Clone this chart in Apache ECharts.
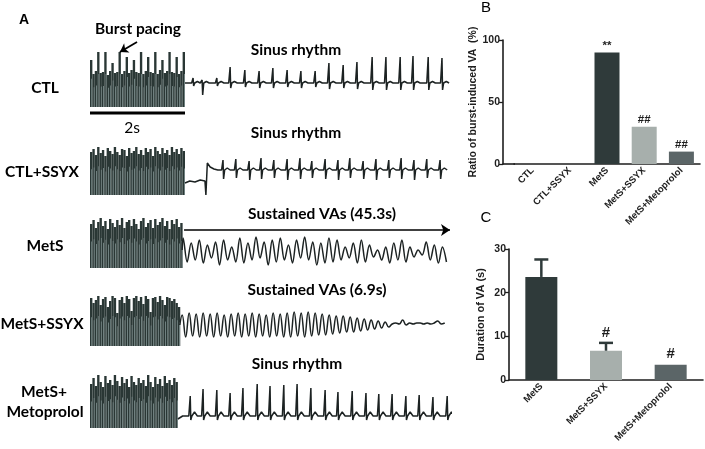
<!DOCTYPE html>
<html>
<head>
<meta charset="utf-8">
<script src="https://cdn.jsdelivr.net/npm/echarts@6/dist/echarts.min.js"></script>
<style>
  html, body { margin: 0; padding: 0; background: #fff; }
  #chart { width: 705px; height: 449px; }
</style>
</head>
<body>
<div id="chart"></div>
<script>
// ---- panel B: ratio of burst-induced VA (%)
const groupsB = ['CTL', 'CTL+SSYX', 'MetS', 'MetS+SSYX', 'MetS+Metoprolol'];
const ratioVA = [0, 0, 90, 30, 10];
const ratioMarks = ['', '', '**', '##', '##'];
const ticksB = [0, 50, 100];

// ---- panel C: duration of VA (s), mean + upper error
const groupsC = ['MetS', 'MetS+SSYX', 'MetS+Metoprolol'];
const durationVA = [23.6, 6.7, 3.5];
const durationErr = [4.0, 1.8, 0];
const durationMarks = ['', '#', '#'];
const ticksC = [0, 10, 20, 30];

// ---- panel A: ECG traces (time in s, amplitude in arbitrary units)
const pulseInterval = 0.05;   // burst pacing, 20 Hz for 2 s
const scaleBarSeconds = 2;

// burst pacing blocks: top of each paced complex
const ctlBurstTops = [23, 9, 12, 31, 10, 11, 31, 8, 12, 20, 10, 11, 31, 9, 12, 26, 10, 13, 23, 11,
                      10, 31, 9, 12, 26, 11, 10, 31, 9, 13, 23, 10, 12, 31, 11, 10, 26, 9, 12, 31];
const ctlSsyxBurstTops = [18, 21, 15, 23, 17, 20, 14, 22, 19, 16, 23, 18, 15, 21, 20, 14, 22, 17, 19, 23,
                          16, 20, 15, 22, 18, 21, 14, 23, 19, 16, 22, 17, 20, 15, 23, 18, 21, 16, 22, 19];
const metsBurstTops = [26, 30, 22, 28, 32, 24, 29, 21, 31, 27, 23, 30, 25, 32, 22, 28, 30, 24, 31, 26,
                       21, 29, 32, 23, 27, 30, 22, 31, 25, 28, 32, 24, 29, 21, 30, 26, 31, 23, 27];
const metsSsyxBurstTops = [27, 22, 25, 29, 20, 26, 28, 18, 24, 29, 27, 12, 25, 28, 22, 29, 26, 14, 27, 29,
                           24, 28, 21, 29, 26, 13, 27, 28, 23, 29, 25, 20, 28, 27, 24, 26, 22, 18];
const metoBurstTops = [32, 38, 30, 41, 34, 29, 40, 33, 36, 31, 41, 35, 30, 39, 33, 37, 29, 40, 34, 31,
                       38, 33, 36, 30, 41, 34, 29, 39, 32, 37, 30, 40, 33, 36, 31, 38, 34];
const burstBottoms = [-24, -25, -18, -21, -12];

// CTL: sinus rhythm beats
const ctlBeatTimes = [2.17, 2.36, 2.67, 2.95, 3.26, 3.56, 3.85, 4.15, 4.44, 4.74, 5.03, 5.33, 5.62,
                      5.94, 6.23, 6.53, 6.80, 7.12, 7.41];
const ctlBeatR = [5, 3, 5, 16, 13, 12, 15, 13, 12, 12, 20, 18, 21, 26, 26, 26, 27, 26, 25];
const ctlBeatS = [-3, -12, -3, -5, -4, -5, -5, -4, -5, -4, -6, -5, -6, -7, -7, -7, -7, -7, -7];

// CTL+SSYX: post-pacing transient then sinus beats
const ctlSsyxLead = [[2.0, -13], [2.1, -11], [2.21, -12], [2.32, -10], [2.42, -11], [2.44, -25],
                     [2.47, 7], [2.53, 3], [2.61, 1], [2.69, 0]];
const ctlSsyxBeatTimes = [2.80, 3.07, 3.35, 3.60, 3.87, 4.15, 4.42, 4.67, 4.95, 5.22, 5.47, 5.75,
                          6.02, 6.29, 6.55, 6.82, 7.09, 7.37];
const ctlSsyxBeatR = [10, 11, 9, 12, 10, 11, 12, 9, 11, 10, 12, 9, 11, 10, 12, 10, 11, 10];
const ctlSsyxBeatS = [-9, -8, -10, -9, -8, -10, -9, -8, -9, -10, -8, -9, -10, -8, -9, -10, -8, -9];

// MetS: sustained VA, alternating peak / trough samples
const metsVAStart = 1.96;
const metsVAStep = 0.0853;
const metsVA = [12, -12, 7, -10, 10, -13, 5, -8, 8, -15, 10, -10, 3, -12, 12, -13, 7, -10, 13, -8,
                8, -15, 10, -12, 12, -10, 5, -13, 10, -8, 13, -10, 8, -15, 7, -13, 12, -12, 10, -10,
                3, -8, 7, -13, 10, -12, 5, -7, 0, -10, 3, -13, 7, -10, 10, -12, 3, -7, 0, -5,
                8, -10, 5, -13, 3, -12];

// MetS+SSYX: sustained VA then recovery
const metsSsyxVAStart = 1.94;
const metsSsyxVAStep = 0.0737;
const metsSsyxVA = [10, -12, 12, -11, 11, -12, 12, -11, 11, -12, 12, -11, 10, -12, 11, -11, 12, -12, 11, -11,
                    12, -12, 11, -11, 10, -12, 12, -11, 11, -12, 12, -12, 13, -11, 12, -12, 13, -11, 12, -10,
                    11, -10, 10, -9, 9, -8, 9, -7, 8, -7, 7, -6, 6, -5, 5, -4, 4, -3, 3, -2,
                    1, 2, 1, 5, 0, 2, 1, 2, 2, 1, 2, 1, 2, 4, 1, 2];

// MetS+Metoprolol: sinus beats
const metoBeatTimes = [2.11, 2.38, 2.67, 2.95, 3.22, 3.52, 3.79, 4.08, 4.36, 4.65, 4.95, 5.22, 5.52,
                       5.81, 6.08, 6.36, 6.65, 6.93, 7.22, 7.52];
const metoBeatR = [20, 27, 26, 23, 28, 32, 30, 31, 32, 28, 26, 24, 25, 23, 22, 22, 20, 21, 19, 20];

// ---- helpers
function burstData(tops, bottom) {
  return tops.map((top, i) => [i * pulseInterval, bottom, top]);
}
function beatTrace(start, times, rs, ss, tWave) {
  const pts = [[start, 0]];
  times.forEach((t, i) => {
    const s = ss ? ss[i] : -4;
    pts.push([t - 0.03, 0], [t - 0.008, 1], [t, rs[i]], [t + 0.012, s],
             [t + 0.035, 0], [t + 0.09, tWave], [t + 0.15, 0]);
  });
  return pts;
}
function sampledTrace(start, step, values) {
  return values.map((v, i) => [start + i * step, v]);
}

const burstDark = '#2a3735';
const burstLight = '#8fa1a1';
function renderBurst(params, api) {
  const t = api.value(0), lo = api.value(1), hi = api.value(2);
  const p0 = api.coord([t, hi]);
  const p1 = api.coord([t + pulseInterval, lo]);
  const w = p1[0] - p0[0], h = p1[1] - p0[1];
  return {
    type: 'group',
    children: [
      { type: 'rect', shape: { x: p0[0], y: p0[1], width: w, height: h }, style: { fill: burstDark } },
      { type: 'rect', shape: { x: p0[0] + w * 0.6, y: p0[1] + h * 0.4, width: 0.7, height: h * 0.6 },
        style: { fill: burstLight } }
    ]
  };
}

// ECG rows: baseline pixel, grid top / bottom pixel
const rows = [
  { base: 83, top: 38, bottom: 116 },
  { base: 170, top: 140, bottom: 200 },
  { base: 250, top: 214, bottom: 272 },
  { base: 325, top: 292, bottom: 350 },
  { base: 416, top: 370, bottom: 432 }
];
const traceX0 = 90, traceW = 360, pxPerSec = 47.5;

const rowTraces = [
  beatTrace(2.0, ctlBeatTimes, ctlBeatR, ctlBeatS, 1.5),
  ctlSsyxLead.concat(beatTrace(2.72, ctlSsyxBeatTimes, ctlSsyxBeatR, ctlSsyxBeatS, 2)),
  [[1.94, 0]].concat(sampledTrace(metsVAStart, metsVAStep, metsVA)),
  [[1.89, 0]].concat(sampledTrace(metsSsyxVAStart, metsSsyxVAStep, metsSsyxVA)),
  [[1.85, -3]].concat(beatTrace(1.95, metoBeatTimes, metoBeatR, null, 4))
];
const rowSmooth = [0, 0, 0.35, 0.45, 0];
const rowBursts = [ctlBurstTops, ctlSsyxBurstTops, metsBurstTops, metsSsyxBurstTops, metoBurstTops];

const grids = [
  { left: 514, top: 40, width: 186, height: 124 },   // B
  { left: 509, top: 249, width: 194, height: 131 }   // C
];
const xAxes = [], yAxes = [], series = [];

const axisCol = '#1e1e1e';
const axisFont = 'Liberation Sans';

// B
xAxes.push({
  type: 'category', gridIndex: 0, data: groupsB,
  axisLine: { lineStyle: { color: axisCol, width: 1.6 } },
  axisTick: { alignWithLabel: true, length: 3, lineStyle: { color: axisCol, width: 1.3 } },
  axisLabel: { rotate: 45, interval: 0, fontSize: 9.5, fontWeight: 'bold', fontFamily: axisFont, color: axisCol, margin: 5 }
});
yAxes.push({
  type: 'value', gridIndex: 0, min: ticksB[0], max: ticksB[ticksB.length - 1], interval: ticksB[1] - ticksB[0],
  offset: 11,
  name: 'Ratio of burst-induced VA  (%)', nameLocation: 'middle', nameGap: 22,
  nameTextStyle: { fontSize: 10.5, fontWeight: 'bold', fontFamily: axisFont, color: axisCol },
  splitLine: { show: false },
  axisLine: { show: true, lineStyle: { color: axisCol, width: 1.6 } },
  axisTick: { show: true, length: 4, lineStyle: { color: axisCol, width: 1.3 } },
  axisLabel: { fontSize: 10.5, fontWeight: 'bold', fontFamily: axisFont, color: axisCol, margin: 3 }
});
const colorOf = { 'CTL': '#2f3a3a', 'CTL+SSYX': '#2f3a3a', 'MetS': '#2f3a3a', 'MetS+SSYX': '#a7afac', 'MetS+Metoprolol': '#5b6567' };
series.push({
  type: 'bar', xAxisIndex: 0, yAxisIndex: 0, barWidth: 25,
  data: ratioVA.map((v, i) => ({ value: v, itemStyle: { color: colorOf[groupsB[i]] } })),
  label: {
    show: true, position: 'top', distance: 1,
    formatter: p => ratioMarks[p.dataIndex],
    fontSize: 11.5, fontWeight: 'bold', fontFamily: axisFont, color: axisCol
  }
});

// C
xAxes.push({
  type: 'category', gridIndex: 1, data: groupsC,
  axisLine: { lineStyle: { color: axisCol, width: 1.6 } },
  axisTick: { alignWithLabel: true, length: 3, lineStyle: { color: axisCol, width: 1.3 } },
  axisLabel: { rotate: 45, interval: 0, fontSize: 9.5, fontWeight: 'bold', fontFamily: axisFont, color: axisCol, margin: 5 }
});
yAxes.push({
  type: 'value', gridIndex: 1, min: ticksC[0], max: ticksC[ticksC.length - 1], interval: ticksC[1] - ticksC[0],
  name: 'Duration of VA (s)', nameLocation: 'middle', nameGap: 23,
  nameTextStyle: { fontSize: 11, fontWeight: 'bold', fontFamily: axisFont, color: axisCol },
  splitLine: { show: false },
  axisLine: { show: true, lineStyle: { color: axisCol, width: 1.6 } },
  axisTick: { show: true, length: 4, lineStyle: { color: axisCol, width: 1.3 } },
  axisLabel: { fontSize: 10.5, fontWeight: 'bold', fontFamily: axisFont, color: axisCol, margin: 3 }
});
series.push({
  type: 'bar', xAxisIndex: 1, yAxisIndex: 1, barWidth: 32,
  data: durationVA.map((v, i) => ({ value: v, itemStyle: { color: colorOf[groupsC[i]] } }))
});
series.push({
  type: 'custom', xAxisIndex: 1, yAxisIndex: 1, z: 5,
  data: durationVA.map((v, i) => [i, v, durationErr[i]]),
  renderItem: (params, api) => {
    const i = api.value(0), v = api.value(1), e = api.value(2);
    const base = api.coord([i, v]);
    const top = api.coord([i, v + e]);
    const children = [];
    if (e > 0) {
      children.push({ type: 'line', shape: { x1: base[0], y1: base[1], x2: top[0], y2: top[1] },
                      style: { stroke: '#2f3a3a', lineWidth: 2.5 } });
      children.push({ type: 'line', shape: { x1: top[0] - 7, y1: top[1], x2: top[0] + 7, y2: top[1] },
                      style: { stroke: '#2f3a3a', lineWidth: 2.5 } });
    }
    const mark = durationMarks[params.dataIndex];
    if (mark) {
      children.push({ type: 'text', x: top[0], y: top[1] - 3,
        style: { text: mark, textAlign: 'center', textVerticalAlign: 'bottom', align: 'center', verticalAlign: 'bottom',
                 font: 'bold 15px "Liberation Sans"', fill: axisCol } });
    }
    return { type: 'group', children };
  }
});

// A: one grid per ECG row
rows.forEach((r, k) => {
  const gi = grids.length;
  grids.push({ left: traceX0, width: traceW, top: r.top, height: r.bottom - r.top });
  xAxes.push({ type: 'value', gridIndex: gi, min: 0, max: traceW / pxPerSec, show: false });
  yAxes.push({ type: 'value', gridIndex: gi, min: r.base - r.bottom, max: r.base - r.top, show: false });
  series.push({
    type: 'custom', xAxisIndex: gi, yAxisIndex: gi, silent: true,
    data: burstData(rowBursts[k], burstBottoms[k]),
    renderItem: renderBurst
  });
  series.push({
    type: 'line', xAxisIndex: gi, yAxisIndex: gi, silent: true,
    showSymbol: false, smooth: rowSmooth[k],
    lineStyle: { color: '#1c2222', width: 1.5 },
    data: rowTraces[k]
  });
});

// scale bar under the CTL burst, and the burst pacing arrow
series.push({
  type: 'line', xAxisIndex: 2, yAxisIndex: 2, silent: true, showSymbol: false,
  lineStyle: { color: '#000', width: 3 },
  data: [[0, -30], [scaleBarSeconds, -30]],
  markLine: {
    silent: true, symbol: ['none', 'arrow'], symbolSize: 8,
    lineStyle: { color: '#000', width: 1.8, type: 'solid' }, label: { show: false },
    data: [[{ coord: [0.99, 41] }, { coord: [0.63, 31] }]]
  }
});
// sustained VA arrow for MetS
series.push({
  type: 'line', xAxisIndex: 4, yAxisIndex: 4, silent: true, showSymbol: false, data: [],
  markLine: {
    silent: true, symbol: ['none', 'arrow'], symbolSize: 9,
    lineStyle: { color: '#000', width: 1.6, type: 'solid' }, label: { show: false },
    data: [[{ coord: [1.98, 20] }, { coord: [traceW / pxPerSec, 20] }]]
  }
});

function txt(text, x, y, font) {
  return { type: 'text', x, y, silent: true,
    style: { text, font, fill: '#000', textAlign: 'center', textVerticalAlign: 'middle', align: 'center', verticalAlign: 'middle' } };
}
const capFont = 'bold 15.5px Lato';
const graphics = [
  txt('A', 24, 20, 'bold 14px "Liberation Sans"'),
  txt('B', 486, 8, '15px "Liberation Sans"'),
  txt('C', 486, 218, '15px "Liberation Sans"'),
  txt('Burst pacing', 138, 29, capFont),
  txt('2s', 132, 128, '15.5px Lato'),
  txt('CTL', 45, 88, capFont),
  txt('CTL+SSYX', 42, 172, capFont),
  txt('MetS', 45, 246, capFont),
  txt('MetS+SSYX', 42, 324, capFont),
  txt('MetS+', 44, 392, capFont),
  txt('Metoprolol', 45, 412, capFont),
  txt('Sinus rhythm', 296, 50, capFont),
  txt('Sinus rhythm', 296, 133, capFont),
  txt('Sustained VAs (45.3s)', 322, 214, capFont),
  txt('Sustained VAs (6.9s)', 317, 290, capFont),
  txt('Sinus rhythm', 297, 364, capFont),
  // extend the B x-axis line to the offset y-axis
  { type: 'line', silent: true, shape: { x1: 502.5, y1: 164, x2: 515, y2: 164 }, style: { stroke: axisCol, lineWidth: 1.6 } }
];

const chart = echarts.init(document.getElementById('chart'), null, { renderer: 'canvas' });
chart.setOption({
  animation: false,
  backgroundColor: '#fff',
  grid: grids,
  xAxis: xAxes,
  yAxis: yAxes,
  series: series,
  graphic: graphics
});
</script>
</body>
</html>
